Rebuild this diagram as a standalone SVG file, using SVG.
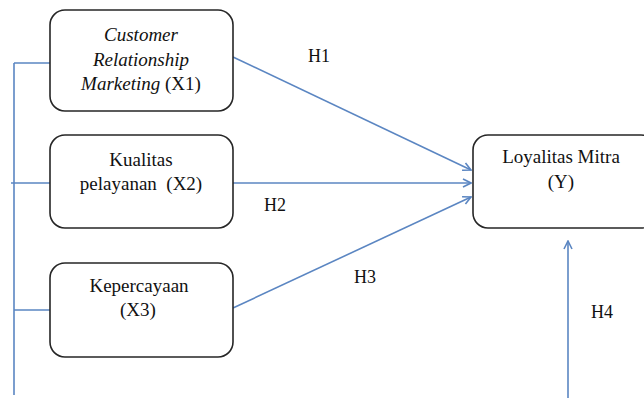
<svg xmlns="http://www.w3.org/2000/svg" width="644" height="398" viewBox="0 0 644 398">
<defs>
<style>
.box{fill:#fff;stroke:#262626;stroke-width:1.6}
.ln{stroke:#5b86c2;stroke-width:1.6;fill:none}
.lbl{font-size:18px}
.it{font-style:italic}
</style>
<marker id="arr" viewBox="0 0 10 10" refX="9" refY="5" markerWidth="10" markerHeight="10" markerUnits="userSpaceOnUse" orient="auto">
<path d="M1,1 L9,5 L1,9" fill="none" stroke="#5b86c2" stroke-width="1.6"/>
</marker>
</defs>
<rect width="644" height="398" fill="#fff"/>
<g id="connectors">
<path class="ln" d="M14,63 V395 M14,63 H50 M11,183 H50 M14,310 H50"/>
<line class="ln" x1="233" y1="57" x2="471" y2="170" marker-end="url(#arr)"/>
<line class="ln" x1="233" y1="183" x2="471" y2="183" marker-end="url(#arr)"/>
<line class="ln" x1="233" y1="308" x2="471" y2="197" marker-end="url(#arr)"/>
<line class="ln" x1="568" y1="398" x2="568" y2="241" marker-end="url(#arr)"/>
</g>
<g font-family="Liberation Serif, DejaVu Serif, serif" font-size="19" fill="#111" text-anchor="middle">
<g id="labels">
<text class="lbl" x="319" y="62">H1</text>
<text class="lbl" x="275" y="211">H2</text>
<text class="lbl" x="365" y="283">H3</text>
<text class="lbl" x="602" y="318">H4</text>
</g>
<g id="x1">
<rect class="box" x="50" y="10" width="183" height="101" rx="15"/>
<text class="it" x="141" y="41">Customer</text>
<text class="it" x="141" y="66">Relationship</text>
<text x="141" y="90"><tspan class="it">Marketing</tspan> (X1)</text>
</g>
<g id="x2">
<rect class="box" x="50" y="135" width="183" height="93" rx="15"/>
<text x="141" y="166">Kualitas</text>
<text x="141" y="190" style="white-space:pre">pelayanan  (X2)</text>
</g>
<g id="x3">
<rect class="box" x="50" y="263" width="183" height="94" rx="15"/>
<text x="139" y="292">Kepercayaan</text>
<text x="138" y="316">(X3)</text>
</g>
<g id="y">
<rect class="box" x="473" y="135" width="183" height="93" rx="15"/>
<text x="561" y="163">Loyalitas Mitra</text>
<text x="561" y="188">(Y)</text>
</g>
</g>
</svg>
